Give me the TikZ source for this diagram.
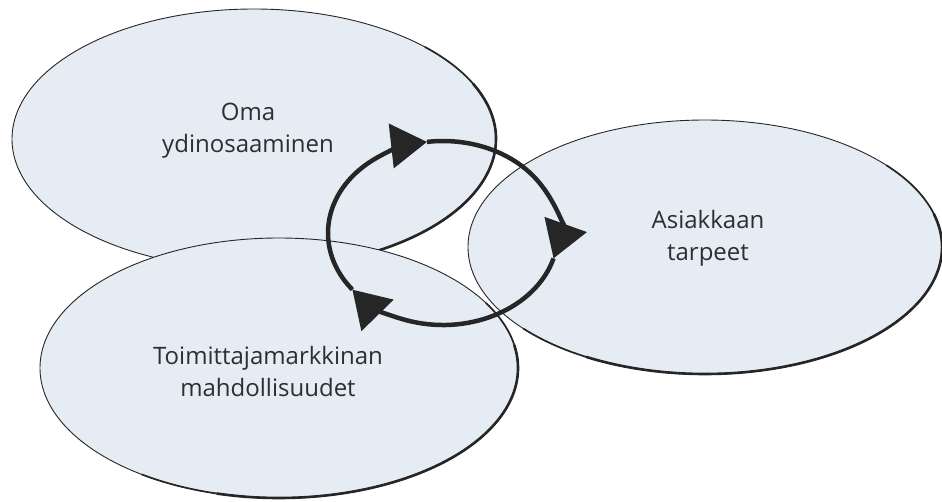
\documentclass[tikz,border=0pt]{standalone}
\usepackage{fontspec}
\setmainfont{Open Sans}
\usetikzlibrary{shapes.geometric,arrows.meta,calc}
\definecolor{efill}{HTML}{E6ECF4}
\definecolor{eline}{HTML}{262626}
\definecolor{txt}{HTML}{2E2E2E}
\begin{document}
\begin{tikzpicture}[x=1pt,y=1pt,
  blob/.style={ellipse, fill=efill, draw=eline, line width=0.9pt, inner sep=0pt},
  lbl/.style={text=txt, align=center, font=\fontsize{24}{32}\selectfont},
  shademid/.style={draw=eline, line width=1.7pt, line cap=round},
  shadecore/.style={draw=eline, line width=2.6pt, line cap=round},
  cyc/.style={draw=eline, line width=4.5pt, -{Triangle[length=36pt,width=44pt]}}]
\useasboundingbox (0,0) rectangle (942,-501);
\fill[white] (0,0) rectangle (942,-501);
% ellipse 1: Oma ydinosaaminen
\node[blob, minimum width=484pt, minimum height=260pt] (oma) at (254,-139) {};
\draw[shademid] ($(oma.center)+(45:242 and 130)$) arc[start angle=45,end angle=-75,x radius=242,y radius=130];
\draw[shadecore] ($(oma.center)+(25:242 and 130)$) arc[start angle=25,end angle=-60,x radius=242,y radius=130];
% ellipse 2: Asiakkaan tarpeet
\node[blob, minimum width=474pt, minimum height=254pt] (asi) at (705,-247) {};
\draw[shademid] ($(asi.center)+(40:237 and 127)$) arc[start angle=40,end angle=-140,x radius=237,y radius=127];
\draw[shadecore] ($(asi.center)+(15:237 and 127)$) arc[start angle=15,end angle=-120,x radius=237,y radius=127];
% ellipse 3: Toimittajamarkkinan mahdollisuudet
\node[blob, minimum width=478pt, minimum height=260pt] (toi) at (279,-368) {};
\draw[shademid] ($(toi.center)+(30:239 and 130)$) arc[start angle=30,end angle=-125,x radius=239,y radius=130];
\draw[shadecore] ($(toi.center)+(10:239 and 130)$) arc[start angle=10,end angle=-105,x radius=239,y radius=130];
% labels
\node[lbl] (tOma) at (248,-131) {Oma\\ydinosaaminen};
\node[lbl] (tAsi) at (708,-238) {Asiakkaan\\tarpeet};
\node[lbl] (tToi) at (268,-371) {Toimittajamarkkinan\\mahdollisuudet};
% cycle
\coordinate (cc) at (443,-233);
\draw[cyc] ($(cc)+(218:115 and 92)$) arc[start angle=218,end angle=98,x radius=115,y radius=92];
\draw[cyc] ($(cc)+(98:115 and 92)$) arc[start angle=98,end angle=-16,x radius=115,y radius=92];
\draw[cyc] ($(cc)+(-16:115 and 92)$) arc[start angle=-16,end angle=-142,x radius=115,y radius=92];
\end{tikzpicture}
\end{document}
